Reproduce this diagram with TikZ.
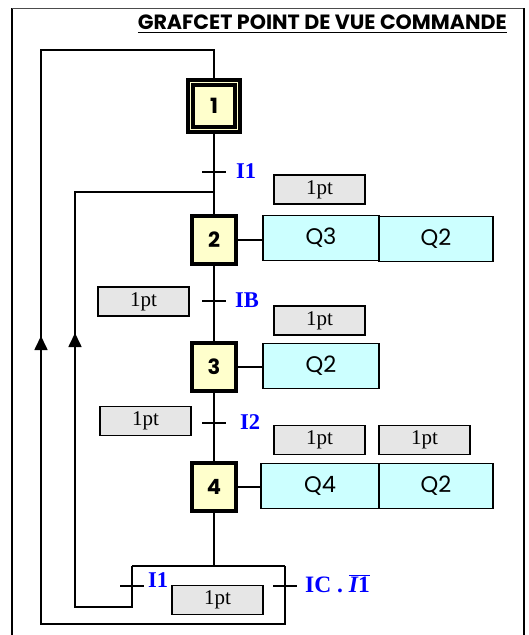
\documentclass[tikz,border=0pt]{standalone}
\usepackage{fontspec}
\setmainfont{Liberation Serif}
\newfontfamily\gothic{Poppins}
\usetikzlibrary{arrows.meta}
\definecolor{stepfill}{HTML}{FFFFCC}
\definecolor{actfill}{HTML}{CCFFFF}
\definecolor{ptfill}{HTML}{E6E6E6}
\definecolor{lblue}{HTML}{0000FF}
\begin{document}
\begin{tikzpicture}[x=1pt,y=-1pt,
 line/.style={line width=1.7pt},
 stepbox/.style={draw, line width=3.8pt, fill=stepfill, minimum width=44pt, minimum height=48pt, inner sep=0pt, font=\gothic\bfseries\fontsize{21}{21}\selectfont},
 actbox/.style={draw, line width=1.6pt, fill=actfill, minimum height=45pt, inner sep=0pt, font=\gothic\fontsize{22.5}{22.5}\selectfont},
 ptbox/.style={draw, line width=1.6pt, fill=ptfill, minimum width=91pt, minimum height=29pt, inner sep=0pt, font=\fontsize{21}{21}\selectfont},
 cond/.style={text=lblue, font=\bfseries\fontsize{22.5}{22.5}\selectfont, anchor=west, inner sep=0pt},
 tick/.style={line width=1.7pt},
 upar/.style={line width=1.7pt, -{Triangle[width=13pt,length=14pt]}}]
\useasboundingbox (0,0) rectangle (528,635);
% frame
\coordinate (fbl) at (12,635); \coordinate (ftl) at (12,8);
\coordinate (ftr) at (524,8); \coordinate (fbr) at (524,635);
\draw[line width=2pt] (fbl) -- (ftl);
\draw[line width=1pt, black!70] (ftl) -- (ftr);
\draw[line width=2.5pt] (ftr) -- (fbr);
% title
\node[anchor=base east, inner sep=0pt] (title) at (507,29)
  {\resizebox{369pt}{!}{\gothic\bfseries\underline{GRAFCET POINT DE VUE COMMANDE}}};
% steps
\node[draw, line width=3.5pt, fill=stepfill, minimum size=52pt, inner sep=0pt] (s1o) at (214,106) {};
\node[stepbox, minimum width=42pt, minimum height=42pt, line width=3.2pt] (s1) at (214,106) {1};
\node[stepbox] (s2) at (214,240) {2};
\node[stepbox] (s3) at (214,367) {3};
\node[stepbox] (s4) at (214,487) {4};
% actions
\node[actbox, minimum width=116pt] (a2a) at (321,238) {Q3};
\node[actbox, minimum width=114pt] (a2b) at (436,239) {Q2};
\node[actbox, minimum width=116pt] (a3) at (321,366) {Q2};
\node[actbox, minimum width=118pt] (a4a) at (320,486) {Q4};
\node[actbox, minimum width=114pt] (a4b) at (436,486) {Q2};
\draw[line] (s2.east) -- (s2.east -| a2a.west);
\draw[line] (s3.east) -- (s3.east -| a3.west);
\draw[line] (s4.east) -- (s4.east -| a4a.west);
% 1pt boxes
\node[ptbox] (p1) at (319.5,189.5) {1pt};
\node[ptbox] (p2) at (143.5,301.5) {1pt};
\node[ptbox] (p3) at (319.5,320.5) {1pt};
\node[ptbox] (p4) at (145.5,421) {1pt};
\node[ptbox] (p5) at (319.5,440) {1pt};
\node[ptbox] (p6) at (424.5,440) {1pt};
\node[ptbox] (p7) at (217.5,600) {1pt};
% main line
\draw[line] (s1o.south) -- (s2.north);
\draw[line] (s2.south) -- (s3.north);
\draw[line] (s3.south) -- (s4.north);
\coordinate (d4) at (214,566);
\coordinate (dl) at (132,566);
\coordinate (dr) at (285,566);
\draw[line] (s4.south) -- (d4);
\draw[line] (dl) -- (dr);
% transitions
\coordinate (t1) at (214,172);
\coordinate (t2) at (214,301);
\coordinate (t3) at (214,423);
\coordinate (t4) at (132,586);
\coordinate (t5) at (285,586);
\foreach \t in {t1,t2,t3,t4,t5}{
  \draw[tick] ([xshift=-12pt]\t) -- ([xshift=12pt]\t);
}
\node[cond] (c1) at (236,171) {I1};
\node[cond] (c2) at (235,300) {IB};
\node[cond] (c3) at (240,422) {I2};
\node[cond] (c4) at (148,580) {I1};
\node[cond, font=\bfseries\fontsize{23.5}{23.5}\selectfont] (c5) at (305,584) {IC . $\overline{\hbox{\bfseries\itshape I\upshape 1}}$};
% left loop (to step 2)
\coordinate (l1) at (132,607);
\coordinate (l2) at (75,607);
\coordinate (l3) at (75,192);
\coordinate (j2) at (214,192);
\draw[line] (dl) -- (l1) -- (l2) -- (l3) -- (j2);
\coordinate (la1) at (75,348);
\coordinate (la2) at (75,333);
\draw[upar] (la1) -- (la2);
% right loop (to step 1)
\coordinate (r1) at (285,624);
\coordinate (r2) at (41,624);
\coordinate (r3) at (41,50);
\coordinate (j1) at (214,50);
\draw[line] (dr) -- (r1) -- (r2) -- (r3) -- (j1) -- (s1o.north);
\coordinate (ra1) at (41,351);
\coordinate (ra2) at (41,336);
\draw[upar] (ra1) -- (ra2);
\end{tikzpicture}
\end{document}
